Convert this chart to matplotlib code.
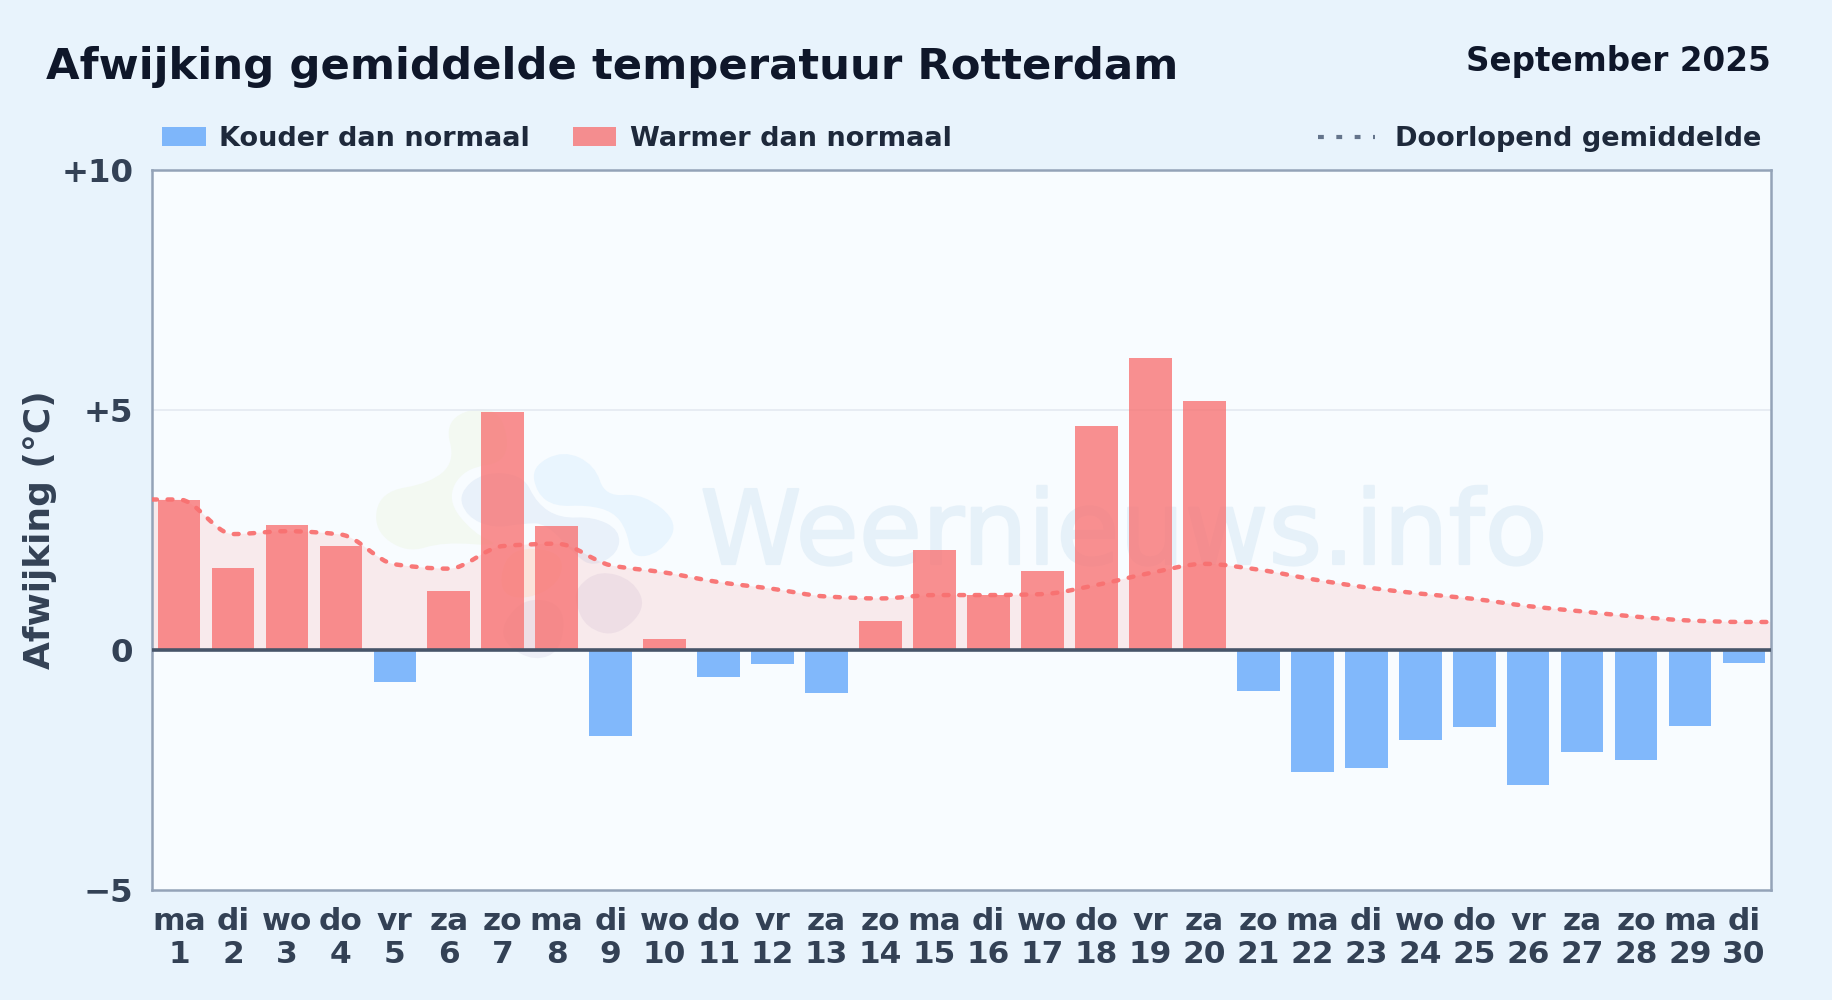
# -*- coding: utf-8 -*-
import numpy as np
import matplotlib
matplotlib.use('Agg')
import matplotlib.pyplot as plt
import matplotlib.patheffects as pe
from matplotlib.patches import PathPatch, Rectangle
from matplotlib.path import Path
from matplotlib.lines import Line2D

# Data
dagen = ['ma', 'di', 'wo', 'do', 'vr', 'za', 'zo', 'ma', 'di', 'wo', 'do', 'vr', 'za', 'zo', 'ma',
         'di', 'wo', 'do', 'vr', 'za', 'zo', 'ma', 'di', 'wo', 'do', 'vr', 'za', 'zo', 'ma', 'di']
datums = list(range(1, 31))
afwijking = [3.11, 1.70, 2.60, 2.17, -0.66, 1.22, 4.96, 2.58, -1.80, 0.22,
             -0.56, -0.29, -0.90, 0.61, 2.07, 1.14, 1.65, 4.67, 6.08, 5.18,
             -0.85, -2.55, -2.46, -1.87, -1.61, -2.82, -2.12, -2.29, -1.58, -0.27]
doorlopend = [3.13, 2.41, 2.47, 2.40, 1.78, 1.69, 2.16, 2.21, 1.76, 1.61,
              1.41, 1.27, 1.11, 1.07, 1.14, 1.14, 1.16, 1.35, 1.60, 1.79,
              1.67, 1.47, 1.30, 1.17, 1.06, 0.91, 0.80, 0.69, 0.61, 0.58]
y_ticks = [-5, 0, 5, 10]
y_labels = ['\u22125', '0', '+5', '+10']

# Colours
BG = '#e8f3fc'
PLOT_BG = '#f8fcff'
RED = '#f87171'
BLUE = '#60a5fa'
W, H = 1832, 1000

fig = plt.figure(figsize=(W / 100, H / 100), dpi=100, facecolor=BG)
ax = fig.add_axes([152 / W, 1 - 890 / H, (1771 - 152) / W, (890 - 169.5) / H], facecolor=PLOT_BG)


def px(x, y):
    # pixel position in the picture -> figure fraction
    return x / W, 1 - y / H


def smooth_path(xs, ys):
    # monotone cubic bezier through the points: flat at every turning point
    xs = np.asarray(xs, float)
    ys = np.asarray(ys, float)
    delta = np.diff(ys) / np.diff(xs)
    slopes = np.zeros(len(xs))
    for i in range(1, len(xs) - 1):
        if delta[i - 1] * delta[i] > 0:
            slopes[i] = 2 * delta[i - 1] * delta[i] / (delta[i - 1] + delta[i])
    verts = [(xs[0], ys[0])]
    codes = [Path.MOVETO]
    for i in range(len(xs) - 1):
        d = (xs[i + 1] - xs[i]) / 3
        verts += [(xs[i] + d, ys[i] + slopes[i] * d),
                  (xs[i + 1] - d, ys[i + 1] - slopes[i + 1] * d),
                  (xs[i + 1], ys[i + 1])]
        codes += [Path.CURVE4] * 3
    return verts, codes


def blob(ctrl, color, alpha=1.0):
    # watermark shape; ctrl in the pixels of the logo crop
    pts = [px(360 + a / 3, 390 + b / 3) for a, b in ctrl]
    n = len(pts)
    verts = [((pts[-1][0] + pts[0][0]) / 2, (pts[-1][1] + pts[0][1]) / 2)]
    codes = [Path.MOVETO]
    for i in range(n):
        nxt = pts[(i + 1) % n]
        verts += [pts[i], ((pts[i][0] + nxt[0]) / 2, (pts[i][1] + nxt[1]) / 2)]
        codes += [Path.CURVE3, Path.CURVE3]
    ax.add_patch(PathPatch(Path(verts, codes), transform=fig.transFigure, fc=color, ec='none',
                           alpha=alpha, zorder=1))


# Watermark logo
blob([(255, 100), (340, 50), (430, 70), (450, 215), (310, 235), (260, 330), (340, 430), (430, 470),
      (250, 455), (140, 490), (40, 420), (60, 305), (210, 280), (285, 215)], '#f3f9f2')
blob([(515, 230), (610, 180), (705, 225), (735, 320), (850, 310), (960, 400), (900, 490), (815, 505),
      (800, 420), (760, 365), (680, 345), (585, 350), (530, 310)], '#e9f5fe')
blob([(295, 310), (370, 245), (490, 255), (530, 340), (600, 385), (700, 380), (780, 420), (775, 490),
      (700, 530), (650, 500), (560, 400), (490, 400), (400, 415), (320, 380)], '#e9f1fa')
blob([(650, 590), (720, 540), (820, 570), (860, 655), (770, 740), (680, 715), (645, 640)], '#edeff7')
blob([(425, 700), (500, 620), (615, 645), (605, 780), (525, 815), (435, 765)], '#edeff7')
blob([(490, 470), (610, 490), (600, 580), (500, 630), (420, 610), (430, 510)], '#fcf5ea')
ax.text(700 / W, 1 - 564 / H, 'Weernieuws.info', transform=fig.transFigure, ha='left',
        va='baseline', fontsize=74, color='#e6f1f9', zorder=1,
        path_effects=[pe.withStroke(linewidth=1.6, foreground='#e6f1f9')])

# Running mean: area and line
x = np.arange(len(afwijking))
xs = [-0.5] + list(x) + [len(x) - 0.5]
ys = [doorlopend[0]] + doorlopend + [doorlopend[-1]]
verts, codes = smooth_path(xs, ys)
area = Path(verts + [(xs[-1], 0), (xs[0], 0), (xs[0], 0)],
            codes + [Path.LINETO, Path.LINETO, Path.CLOSEPOLY])
ax.add_patch(PathPatch(area, fc=RED, ec='none', alpha=0.13, zorder=2))

# Bars
kleuren = [RED if v >= 0 else BLUE for v in afwijking]
ax.bar(x, afwijking, width=0.79, color=kleuren, alpha=0.78, zorder=3)

curve = PathPatch(Path(verts, codes), fc='none', ec=RED, lw=3.2, zorder=4, alpha=0.95,
                  linestyle=(0, (1.1, 2.4)), capstyle='round')
ax.add_patch(curve)

# Axes
ax.set_xlim(-0.5, len(x) - 0.5)
ax.set_ylim(-5, 10)
ax.axhline(0, color='#475569', lw=2.6, zorder=5)
ax.axhline(5, color='#e2e8f0', lw=1.1, zorder=1)
for s in ax.spines.values():
    s.set_color('#94a3b8')
    s.set_linewidth(1.8)
ax.set_xticks(x)
ax.set_xticklabels([f'{d}\n{n}' for d, n in zip(dagen, datums)], fontsize=22.5, fontweight='bold',
                   color='#334155', linespacing=1.2)
ax.set_yticks(y_ticks)
ax.set_yticklabels(y_labels, fontsize=23.3, fontweight='bold', color='#334155')
ax.tick_params(axis='both', length=0)
ax.tick_params(axis='x', pad=12)
ax.tick_params(axis='y', pad=13.5)

# Titles
fig.text(46 / W, 1 - 79 / H, 'Afwijking gemiddelde temperatuur Rotterdam', fontsize=31.2, fontweight='bold',
         color='#0f172a', ha='left', va='baseline')
fig.text(1771 / W, 1 - 71 / H, 'September 2025', fontsize=23.5, fontweight='bold',
         color='#0f172a', ha='right', va='baseline')
fig.text(40 / W, 1 - 530 / H, 'Afwijking (\u00b0C)', fontsize=25.9, fontweight='bold', color='#334155',
         rotation=90, ha='center', va='center')

# Legend
for x0, x1, kleur, tekst, tx in [(162, 206, BLUE, 'Kouder dan normaal', 219),
                                 (573, 616, RED, 'Warmer dan normaal', 630)]:
    fig.add_artist(Rectangle((x0 / W, 1 - 146 / H), (x1 - x0) / W, 19 / H, transform=fig.transFigure,
                             fc=kleur, ec='none', alpha=0.78))
    fig.text(tx / W, 1 - 146 / H, tekst, fontsize=19.5, fontweight='bold', color='#1e293b',
             ha='left', va='baseline')
fig.add_artist(Line2D([1318 / W, 1375 / W], [1 - 137 / H, 1 - 137 / H], transform=fig.transFigure,
                      color='#64748b', lw=3, linestyle=(0, (1.4, 3.0))))
fig.text(1395 / W, 1 - 146 / H, 'Doorlopend gemiddelde', fontsize=19.5, fontweight='bold', color='#1e293b',
         ha='left', va='baseline')

plt.savefig('out.png', dpi=100, facecolor=BG)
